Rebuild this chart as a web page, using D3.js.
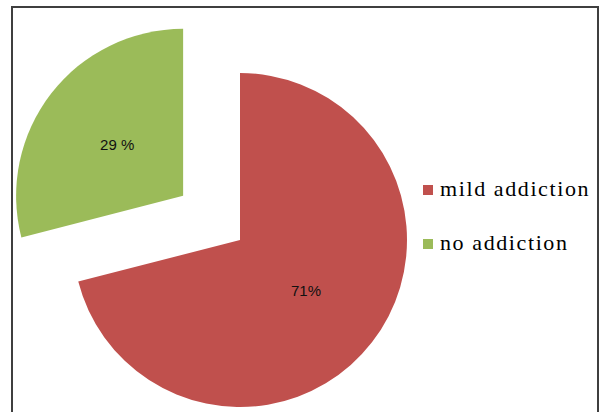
<!DOCTYPE html>
<html>
<head>
<meta charset="utf-8">
<script src="https://cdn.jsdelivr.net/npm/d3@7"></script>
<style>
  html, body { margin: 0; padding: 0; background: #fff; }
  svg { display: block; }
</style>
</head>
<body>
<svg id="chart" width="600" height="412"></svg>
<script>
// Addiction levels
const categories = ["mild addiction", "no addiction"];
const values = [71, 29];
const labels = ["71%", "29 %"];
const colors = ["#C0504D", "#9BBB59"];
const exploded = [0, 1];

const svg = d3.select("#chart");

// chart frame (bottom edge runs past the canvas)
svg.append("rect")
  .attr("x", 12).attr("y", 7)
  .attr("width", 586).attr("height", 420)
  .attr("fill", "#fff")
  .attr("stroke", "#3f3f3f")
  .attr("stroke-width", 2);

const cx = 240, cy = 240, radius = 167, explodeDist = 72;

const pie = d3.pie().sort(null).value(d => d)(values);
const arc = d3.arc().innerRadius(0).outerRadius(radius);
const labelArc = d3.arc().innerRadius(radius / 2).outerRadius(radius / 2);

const g = svg.append("g").attr("transform", `translate(${cx},${cy})`);

const slices = g.selectAll("g.slice")
  .data(pie)
  .join("g")
  .attr("class", "slice")
  .attr("transform", (d, i) => {
    if (!exploded[i]) return null;
    const mid = (d.startAngle + d.endAngle) / 2;
    return `translate(${Math.sin(mid) * explodeDist},${-Math.cos(mid) * explodeDist})`;
  });

slices.append("path")
  .attr("d", arc)
  .attr("fill", (d, i) => colors[i]);

slices.append("text")
  .attr("transform", d => `translate(${labelArc.centroid(d)})`)
  .attr("text-anchor", "middle")
  .attr("dy", "0.35em")
  .attr("font-family", "'Liberation Sans', Arial, sans-serif")
  .attr("font-size", 15)
  .attr("fill", "#111")
  .text((d, i) => labels[i]);

// legend
const legend = svg.append("g");
const rows = legend.selectAll("g")
  .data(categories)
  .join("g")
  .attr("transform", (d, i) => `translate(423,${185 + i * 54})`);

rows.append("rect")
  .attr("width", 10).attr("height", 10)
  .attr("fill", (d, i) => colors[i]);

rows.append("text")
  .attr("x", 17).attr("y", 11)
  .attr("font-family", "'Liberation Serif', 'Times New Roman', serif")
  .attr("font-size", 22)
  .attr("letter-spacing", 1.6)
  .attr("fill", "#000")
  .text(d => d);
</script>
</body>
</html>
